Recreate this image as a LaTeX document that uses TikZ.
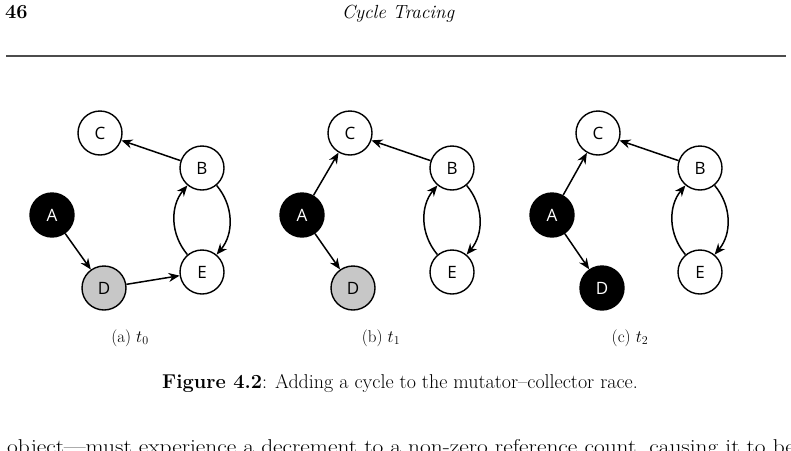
\documentclass[tikz,border=0pt]{standalone}
\usepackage{fontspec}
\newfontfamily\nodefont{Open Sans}
\usetikzlibrary{arrows.meta}
\newcommand{\osf}[1]{{\addfontfeature{Numbers=OldStyle}#1}}
\begin{document}
\begin{tikzpicture}[x=1pt,y=-1pt,
  obj/.style={circle,draw=black,line width=1.4pt,minimum size=44pt,inner sep=0pt,fill=white,font=\nodefont\fontsize{17}{17}\selectfont},
  blackobj/.style={obj,fill=black,text=white},
  grayobj/.style={obj,fill=black!22},
  ref/.style={line width=1.5pt,-{Stealth[length=11pt,width=9pt]}},
  sub/.style={font=\fontsize{17}{20}\selectfont,anchor=base},
]
\useasboundingbox (0,0) rectangle (791,450);
\clip (0,0) rectangle (791,450);
% page header
\node[anchor=base west,inner sep=0pt,font=\bfseries\fontsize{20}{22}\selectfont] (pg) at (5,18) {\osf{46}};
\node[anchor=base,inner sep=0pt,font=\itshape\fontsize{19}{22}\selectfont] (hd) at (398,18) {Cycle Tracing};
\coordinate (rl) at (6,56);
\coordinate (rr) at (786,56);
\draw[line width=1.6pt,black!70] (rl) -- (rr);
% panel (a)
\node[obj] (Ca) at (100,133) {C};
\node[obj] (Ba) at (202,168) {B};
\node[blackobj] (Aa) at (52,215) {A};
\node[grayobj] (Da) at (104,288) {D};
\node[obj] (Ea) at (202,272) {E};
\draw[ref] (Ba) -- (Ca);
\draw[ref] (Aa) -- (Da);
\draw[ref] (Da) -- (Ea);
\draw[ref] (Ba) to[bend left=40] (Ea);
\draw[ref] (Ea) to[bend left=40] (Ba);
\node[sub] (capa) at (130,342) {(a) $t_0$};
% panel (b)
\node[obj] (Cb) at (350,133) {C};
\node[obj] (Bb) at (452,168) {B};
\node[blackobj] (Ab) at (302,215) {A};
\node[grayobj] (Db) at (353,288) {D};
\node[obj] (Eb) at (452,272) {E};
\draw[ref] (Bb) -- (Cb);
\draw[ref] (Ab) -- (Cb);
\draw[ref] (Ab) -- (Db);
\draw[ref] (Bb) to[bend left=40] (Eb);
\draw[ref] (Eb) to[bend left=40] (Bb);
\node[sub] (capb) at (381,342) {(b) $t_1$};
% panel (c)
\node[obj] (Cc) at (598,133) {C};
\node[obj] (Bc) at (700,168) {B};
\node[blackobj] (Ac) at (552,215) {A};
\node[blackobj] (Dc) at (602,288) {D};
\node[obj] (Ec) at (700,272) {E};
\draw[ref] (Bc) -- (Cc);
\draw[ref] (Ac) -- (Cc);
\draw[ref] (Ac) -- (Dc);
\draw[ref] (Bc) to[bend left=40] (Ec);
\draw[ref] (Ec) to[bend left=40] (Bc);
\node[sub] (capc) at (630,342) {(c) $t_2$};
% figure caption
\node[anchor=base,inner sep=0pt,font=\fontsize{20}{24}\selectfont] (fig) at (400,388) {\textbf{Figure \osf{4.2}}: Adding a cycle to the mutator--collector race.};
% running text (cut off at the page edge, as in the reference)
\node[anchor=base west,inner sep=0pt,font=\fontsize{20}{24}\selectfont] (txt) at (7,453) {\scalebox{1.17}[1]{object---must experience a decrement to a non-zero reference count, causing it to be}};
\end{tikzpicture}
\end{document}
